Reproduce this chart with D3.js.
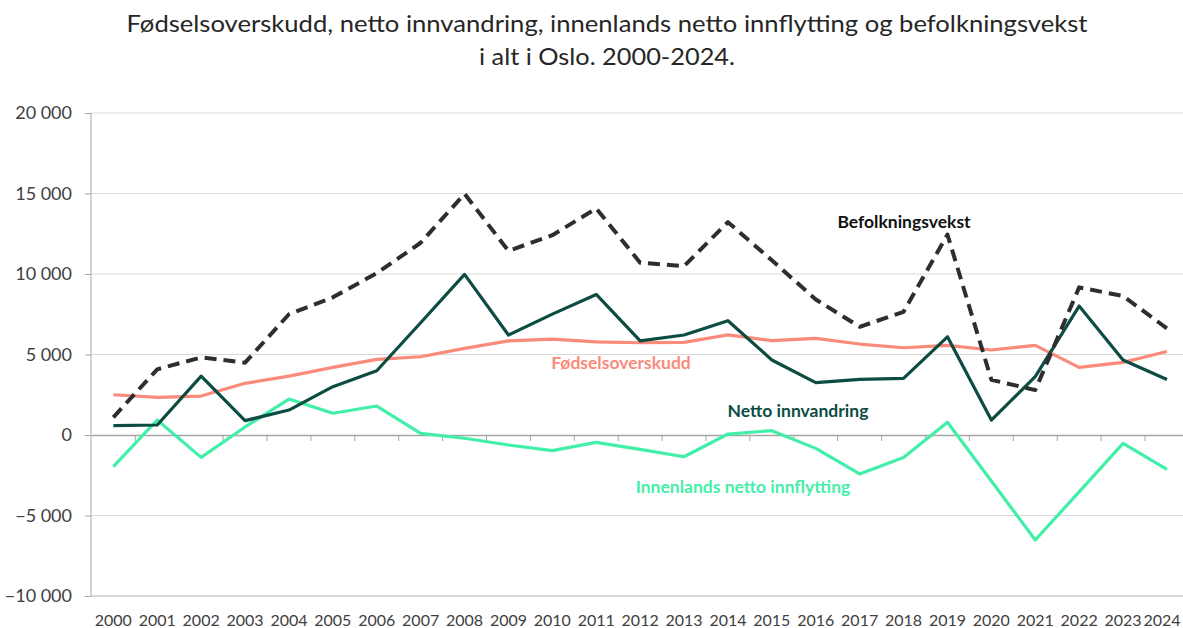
<!DOCTYPE html>
<html>
<head>
<meta charset="utf-8">
<script src="https://cdn.jsdelivr.net/npm/d3@7"></script>
<style>
  body { margin: 0; background: #fff; }
  svg { display: block; font-family: Lato, 'Open Sans', sans-serif; }
</style>
</head>
<body>
<div id="chart"></div>
<script>
// Data

let years = ['2000', '2001', '2002', '2003', '2004', '2005', '2006', '2007', '2008', '2009', '2010', '2011', '2012',
  '2013', '2014', '2015', '2016', '2017', '2018', '2019', '2020', '2021', '2022', '2023', '2024'];

let befolkningsvekst = [1100, 4080, 4820, 4490, 7500, 8550, 10050, 11940, 14980, 11440, 12410, 14070, 10700,
  10490, 13220, 10850, 8420, 6720, 7650, 12450, 3430, 2790, 9170, 8630, 6620];

let nettoInnvandring = [580, 620, 3660, 890, 1550, 3000, 3990, 6970, 9980, 6210, 7510, 8730, 5850,
  6210, 7100, 4660, 3250, 3450, 3520, 6100, 930, 3620, 8010, 4660, 3450];

let fodselsoverskudd = [2500, 2340, 2420, 3210, 3660, 4200, 4700, 4860, 5380, 5850, 5960, 5790, 5730,
  5750, 6220, 5860, 6000, 5650, 5420, 5570, 5280, 5570, 4200, 4510, 5190];

let innenlands = [-1970, 930, -1390, 500, 2230, 1350, 1800, 100, -200, -620, -970, -460, -890,
  -1350, 60, 270, -830, -2420, -1390, 790, -2860, -6520, -3530, -520, -2130];

let yTicks = [-10000, -5000, 0, 5000, 10000, 15000, 20000];

let titleLines = [
  'Fødselsoverskudd, netto innvandring, innenlands netto innflytting og befolkningsvekst',
  'i alt i Oslo. 2000-2024.'
];

// D3 Code
let width = 1183;
let height = 628;

let x = d3
  .scaleBand()
  .domain(years)
  .range([91.4, 91.4 + 25 * 43.9])
  .padding(0);

let y = d3
  .scaleLinear()
  .domain([-10000, 20000])
  .range([596, 113]);

let svg = d3.select('#chart').append('svg').attr('width', width).attr('height', height);

// title
let titleWidths = [961, 256];

svg
  .selectAll('text.title')
  .data(titleLines)
  .enter()
  .append('text')
  .attr('class', 'title')
  .attr('x', 607)
  .attr('y', (d, i) => 32 + i * 33)
  .attr('text-anchor', 'middle')
  .attr('textLength', (d, i) => titleWidths[i])
  .attr('lengthAdjust', 'spacingAndGlyphs')
  .style('font-size', '24px')
  .style('fill', '#262626')
  .text((d) => d);

// gridlines
svg
  .append('g')
  .selectAll('line')
  .data(yTicks.filter((d) => d !== 0))
  .enter()
  .append('line')
  .attr('x1', 91)
  .attr('x2', width)
  .attr('y1', (d) => y(d))
  .attr('y2', (d) => y(d))
  .style('stroke', '#d9d9d9')
  .style('stroke-width', (d) => (d === -10000 ? 2 : 1.2));

// y axis
let yAxis = svg
  .append('g')
  .attr('transform', 'translate(91, 0)')
  .call(
    d3
      .axisLeft(y)
      .tickValues(yTicks)
      .tickSize(6)
      .tickPadding(13)
      .tickFormat((d) => d3.format(',')(d).replace(',', ' '))
  );

yAxis.select('.domain').style('stroke', '#a6a6a6').attr('d', 'M0,' + y(-10000) + 'V' + y(20000));
yAxis.selectAll('.tick line').style('stroke', '#a6a6a6');
yAxis.selectAll('.tick text').style('font-size', '18px').style('fill', '#404040').style('font-family', 'Lato, sans-serif');

// x axis at zero
let xAxis = svg
  .append('g')
  .attr('transform', 'translate(0,' + y(0) + ')')
  .call(d3.axisBottom(x).tickSize(0).tickFormat(''));

xAxis.select('.domain').style('stroke', '#a6a6a6').style('stroke-width', 1.5);

svg
  .append('g')
  .selectAll('line')
  .data(years.slice(1))
  .enter()
  .append('line')
  .attr('x1', (d) => x(d))
  .attr('x2', (d) => x(d))
  .attr('y1', y(0))
  .attr('y2', y(0) + 6)
  .style('stroke', '#a6a6a6');

// year labels (last one kept inside the frame)
svg
  .append('g')
  .selectAll('text')
  .data(years)
  .enter()
  .append('text')
  .attr('x', (d) => Math.min(x(d) + x.bandwidth() / 2, width - 21))
  .attr('y', 626)
  .attr('text-anchor', 'middle')
  .style('font-size', '16px')
  .style('fill', '#404040')
  .text((d) => d);

// lines
let line = d3
  .line()
  .x((d, i) => x(years[i]) + x.bandwidth() / 2)
  .y((d) => y(d));

function drawLine(values, color, w, dash) {
  svg
    .append('path')
    .datum(values)
    .attr('d', line)
    .style('fill', 'none')
    .style('stroke', color)
    .style('stroke-width', w)
    .style('stroke-linejoin', 'round')
    .style('stroke-dasharray', dash || null);
}

drawLine(fodselsoverskudd, '#fa8a7a', 3.2);
drawLine(innenlands, '#41efa8', 3.2);
drawLine(nettoInnvandring, '#0c4c42', 3.2);
drawLine(befolkningsvekst, '#2e2e2e', 4, '12,7');

// labels
function drawLabel(txt, cx, cy, color) {
  svg
    .append('text')
    .attr('x', cx)
    .attr('y', cy)
    .attr('text-anchor', 'middle')
    .attr('dominant-baseline', 'central')
    .style('font-size', '17.5px')
    .style('font-weight', 'bold')
    .style('fill', color)
    .text(txt);
}

drawLabel('Befolkningsvekst', 904, 221, '#111111');
drawLabel('Fødselsoverskudd', 621, 362, '#f98b7d');
drawLabel('Netto innvandring', 798, 410, '#0c4c42');
drawLabel('Innenlands netto innflytting', 743, 486, '#45eeaa');
</script>
</body>
</html>
